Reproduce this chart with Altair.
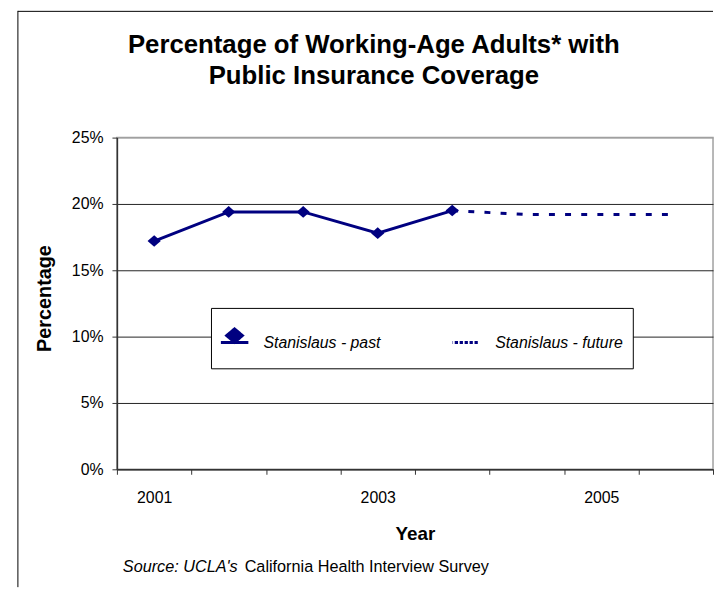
import altair as alt
import pandas as pd

NAVY = "#000080"
FONT = "Liberation Sans"

# ---- data ----
categories = ["2001", "", "", "2003", "", "", "2005", ""]
past_values = [17.2, 19.4, 19.4, 17.8, 19.5]
future_values = [19.5, 19.2, 19.2, 19.2]
future_start = 4
series_names = ["Stanislaus - past", "Stanislaus - future"]
y_ticks = [0, 5, 10, 15, 20, 25]
title_lines = ["Percentage of Working-Age Adults* with", "Public Insurance Coverage"]
source_italic = "Source: UCLA's"
source_regular = "California Health Interview Survey"

n = len(categories)
past_df = pd.DataFrame({"pos": [i + 0.5 for i in range(len(past_values))],
                        "value": past_values})
future_df = pd.DataFrame({"pos": [future_start + i + 0.5 for i in range(len(future_values))],
                          "value": future_values})

W, H = 602, 335

label_expr = "[" + ",".join("'" + c + "'" for c in categories) + ",''][datum.value]"

x_enc = alt.X(
    "pos:Q",
    scale=alt.Scale(domain=[0, n], nice=False, zero=False),
    axis=alt.Axis(
        values=list(range(n + 1)),
        labelExpr=label_expr,
        labelOffset=W / n / 2,
        labelOverlap=False,
        labelFlush=False,
        labelBound=False,
        labelPadding=16,
        title="Year",
        titleFontSize=19,
        titleFontWeight="bold",
        titleBaseline="alphabetic",
        titleY=71,
        grid=False,
        tickSize=5,
    ),
)
y_enc = alt.Y(
    "value:Q",
    scale=alt.Scale(domain=[0, 25], nice=False),
    axis=alt.Axis(
        values=y_ticks,
        labelExpr="datum.value + '%'",
        labelPadding=9,
        title="Percentage",
        titleFontSize=20,
        titleFontWeight="bold",
        titleAngle=270,
        titleAlign="center",
        titleBaseline="alphabetic",
        titleX=-67,
        titleY=162,
        grid=True,
        gridColor={"condition": {"test": "datum.value >= 25", "value": "#a0a0a0"},
                   "value": "#222222"},
        gridWidth=1,
        tickSize=5,
    ),
)

past_line = alt.Chart(past_df).mark_line(color=NAVY, strokeWidth=3).encode(x=x_enc, y=y_enc)
past_pts = alt.Chart(past_df).mark_point(
    shape="M0,-0.87L1,0L0,0.87L-1,0Z", filled=True, color=NAVY, size=180, opacity=1
).encode(x="pos:Q", y="value:Q")
future_line = alt.Chart(future_df).mark_line(
    color=NAVY, strokeWidth=3, strokeDash=[6, 10.3]
).encode(x="pos:Q", y="value:Q")

past_sym = "M-1.38,0H0.75M-0.18,-0.92L0.35,-0.47L-0.18,-0.02L-0.71,-0.47Z"
future_sym = "M-1.29,0H0.71"

leg = alt.Legend(
    orient="none", legendX=95, legendY=172, direction="horizontal", columns=2,
    columnPadding=72, padding=10, fillColor="white", strokeColor="black",
    symbolSize=900, symbolStrokeWidth=3, labelOffset=10, clipHeight=32,
    labelFont=FONT, labelFontSize=16, labelFontStyle="italic", labelColor="black",
    title=" ", titleFontSize=1, titlePadding=8, cornerRadius=0,
)
carrier = alt.Chart(alt.Data(values=[])).mark_point(
    filled=True, fill=NAVY, stroke=NAVY, strokeWidth=3, opacity=1
).encode(
    shape=alt.Shape("series:N", scale=alt.Scale(domain=series_names, range=[past_sym, future_sym]), legend=leg),
    strokeDash=alt.StrokeDash("series:N", scale=alt.Scale(domain=series_names, range=[[1, 0], [3.3, 1.7]]), legend=leg),
)

one = alt.Data(values=[{}])
left_border = alt.Chart(one).mark_rule(color="black", strokeWidth=1).encode(
    x=alt.value(-100), y=alt.value(-128), y2=alt.value(H + 119))
top_border = alt.Chart(one).mark_rule(color="black", strokeWidth=1).encode(
    x=alt.value(-100), x2=alt.value(W), y=alt.value(-127.5))
src1 = alt.Chart(one).mark_text(
    text=source_italic, font=FONT, fontSize=16.4, fontStyle="italic", align="left",
    baseline="alphabetic", color="black").encode(x=alt.value(6), y=alt.value(439))
src2 = alt.Chart(one).mark_text(
    text=source_regular, font=FONT, fontSize=16.4, align="left",
    baseline="alphabetic", color="black").encode(x=alt.value(129), y=alt.value(439))
title1 = alt.Chart(one).mark_text(
    text=title_lines[0], font=FONT, fontSize=26, fontWeight="bold", align="center",
    baseline="alphabetic", color="black").encode(x=alt.value(259.5), y=alt.value(-85))
title2 = alt.Chart(one).mark_text(
    text=title_lines[1], font=FONT, fontSize=26, fontWeight="bold", align="center",
    baseline="alphabetic", color="black").encode(x=alt.value(259.5), y=alt.value(-54))

chart = alt.layer(
    past_line, future_line, past_pts, carrier, left_border, top_border,
    src1, src2, title1, title2
).properties(
    width=W, height=H,
    autosize=alt.AutoSizeParams(type="none"),
    padding={"left": 110, "top": 128, "right": 1, "bottom": 119},
).configure_view(
    stroke="#a0a0a0", strokeWidth=1.5
).configure_axis(
    labelFont=FONT, labelFontSize=16, labelColor="black",
    titleFont=FONT, titleColor="black",
    domainColor="#333333", domainWidth=1.5, tickColor="#333333", tickWidth=1,
)

chart.save("out.html", embed_options={"renderer": "svg", "actions": False})
